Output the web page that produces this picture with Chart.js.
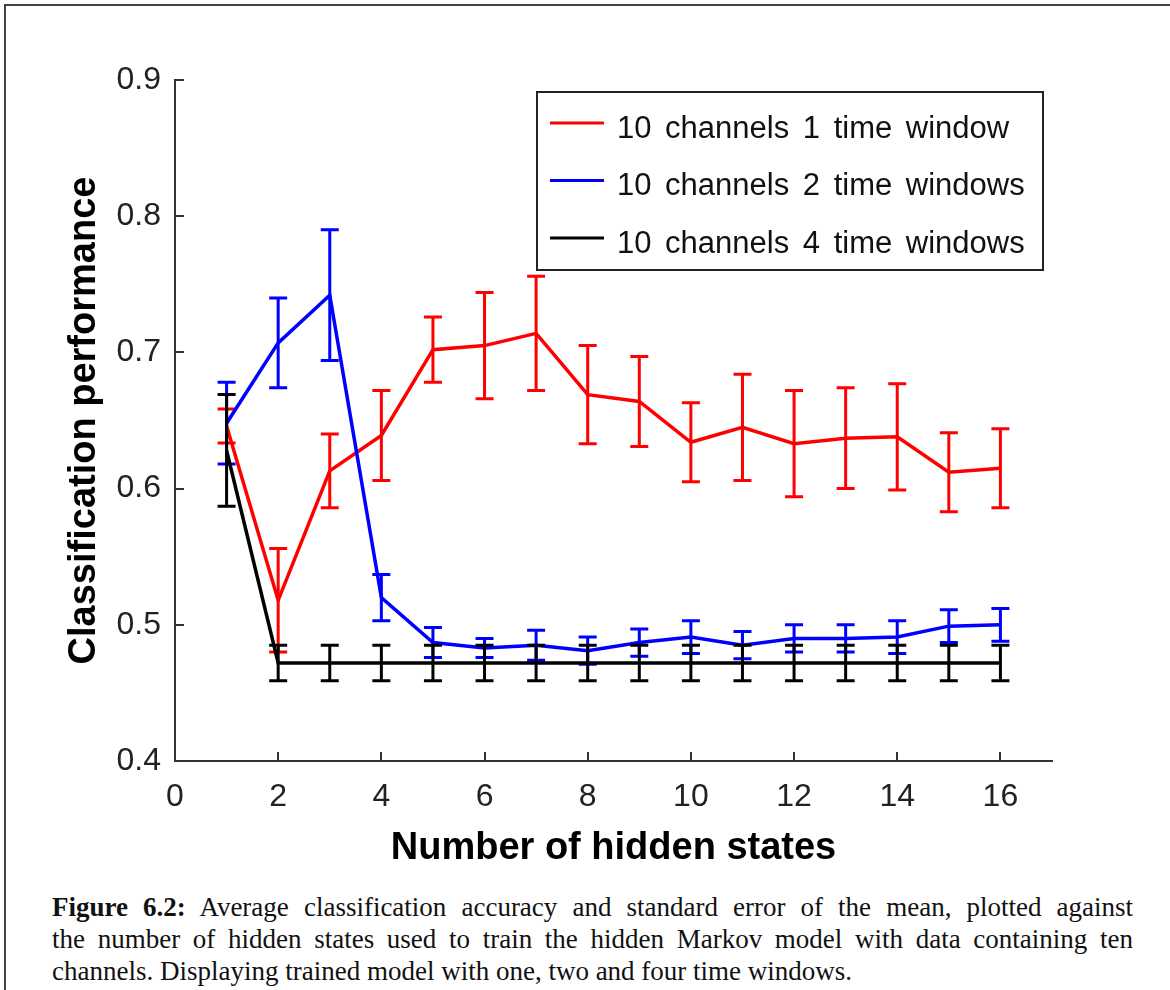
<!DOCTYPE html>
<html>
<head>
<meta charset="utf-8">
<title>Classification performance vs hidden states</title>
<script src="https://cdn.jsdelivr.net/npm/chart.js@4.4.1/dist/chart.umd.min.js"></script>
<style>
  html, body { margin: 0; padding: 0; background: #fff; }
  body { width: 1170px; height: 990px; position: relative; overflow: hidden; }
  #frame { position: absolute; left: 4px; top: 4px; width: 1200px; height: 1000px;
           border-top: 2px solid #444; border-left: 2px solid #444; }
  #plot { position: absolute; left: 0; top: 0; }
  #caption { position: absolute; left: 52px; top: 891px; width: 1081px;
             font-family: 'Liberation Serif', 'Times New Roman', serif;
             font-size: 27px; line-height: 32px; color: #111; }
  .j { text-align: justify; text-align-last: justify; }
</style>
</head>
<body>
<div id="frame"></div>
<canvas id="plot" width="1170" height="880"></canvas>
<div id="caption">
  <div class="j"><b>Figure 6.2:</b> Average classification accuracy and standard error of the mean, plotted against</div>
  <div class="j">the number of hidden states used to train the hidden Markov model with data containing ten</div>
  <div>channels. Displaying trained model with one, two and four time windows.</div>
</div>
<script>
// Number of hidden states used for training
const hiddenStates = [1, 2, 3, 4, 5, 6, 7, 8, 9, 10, 11, 12, 13, 14, 15, 16];

const seriesLabels = [
  '10 channels 1 time window',
  '10 channels 2 time windows',
  '10 channels 4 time windows'
];

// Mean classification performance and standard error of the mean
const oneWindowMean = [0.646, 0.518, 0.613, 0.639, 0.702, 0.705, 0.714, 0.669, 0.664, 0.634, 0.645, 0.633, 0.637, 0.638, 0.612, 0.615];
const oneWindowErr  = [0.0125, 0.038, 0.027, 0.033, 0.024, 0.039, 0.042, 0.036, 0.033, 0.029, 0.039, 0.039, 0.037, 0.039, 0.029, 0.029];

const twoWindowMean = [0.648, 0.707, 0.742, 0.520, 0.487, 0.483, 0.485, 0.481, 0.487, 0.491, 0.485, 0.490, 0.490, 0.491, 0.499, 0.500];
const twoWindowErr  = [0.030, 0.033, 0.048, 0.017, 0.011, 0.007, 0.011, 0.010, 0.010, 0.012, 0.010, 0.010, 0.010, 0.012, 0.012, 0.012];

const fourWindowMean = [0.628, 0.472, 0.472, 0.472, 0.472, 0.472, 0.472, 0.472, 0.472, 0.472, 0.472, 0.472, 0.472, 0.472, 0.472, 0.472];
const fourWindowErr  = [0.041, 0.013, 0.013, 0.013, 0.013, 0.013, 0.013, 0.013, 0.013, 0.013, 0.013, 0.013, 0.013, 0.013, 0.013, 0.013];

// Axis ticks
const xTickValues = [0, 2, 4, 6, 8, 10, 12, 14, 16];
const yTickValues = [0.4, 0.5, 0.6, 0.7, 0.8, 0.9];

const seriesColors = ['#ff0000', '#0000ff', '#000000'];

function points(means) {
  return hiddenStates.map((x, i) => ({ x: x, y: means[i] }));
}

// Vertical error bars with caps, drawn right after each series' line
const errorBars = {
  id: 'errorBars',
  afterDatasetDraw(chart, args) {
    const ds = chart.data.datasets[args.index];
    if (!ds.errors) return;
    const xs = chart.scales.x, ys = chart.scales.y, ctx = chart.ctx;
    const half = 9;
    ctx.save();
    ctx.strokeStyle = ds.borderColor;
    ctx.lineWidth = 3;
    ctx.lineCap = 'butt';
    ds.data.forEach((p, i) => {
      const e = ds.errors[i];
      const px = xs.getPixelForValue(p.x);
      const top = ys.getPixelForValue(p.y + e);
      const bot = ys.getPixelForValue(p.y - e);
      ctx.beginPath();
      ctx.moveTo(px, top); ctx.lineTo(px, bot);
      ctx.moveTo(px - half, top); ctx.lineTo(px + half, top);
      ctx.moveTo(px - half, bot); ctx.lineTo(px + half, bot);
      ctx.stroke();
    });
    ctx.restore();
  }
};

// Tick marks pointing into the plot area
const innerTicks = {
  id: 'innerTicks',
  beforeDatasetsDraw(chart) {
    const { ctx, chartArea } = chart;
    const xs = chart.scales.x, ys = chart.scales.y;
    const len = 9;
    ctx.save();
    ctx.strokeStyle = '#333';
    ctx.lineWidth = 2;
    ctx.beginPath();
    xTickValues.forEach(v => {
      const px = Math.round(xs.getPixelForValue(v));
      ctx.moveTo(px, chartArea.bottom);
      ctx.lineTo(px, chartArea.bottom - len);
    });
    yTickValues.forEach(v => {
      const py = Math.round(ys.getPixelForValue(v));
      ctx.moveTo(chartArea.left, py);
      ctx.lineTo(chartArea.left + len, py);
    });
    ctx.stroke();
    ctx.restore();
  }
};

// Boxed legend in the upper right of the plot area
const boxLegend = {
  id: 'boxLegend',
  afterDraw(chart) {
    const { ctx, chartArea } = chart;
    const w = 506, h = 178;
    const right = chartArea.right - 9;
    const left = right - w;
    const top = chartArea.top + 12;
    ctx.save();
    ctx.fillStyle = '#fff';
    ctx.fillRect(left, top, w, h);
    ctx.strokeStyle = '#222';
    ctx.lineWidth = 2;
    ctx.strokeRect(left, top, w, h);
    ctx.font = '31px "Liberation Sans", Arial, sans-serif';
    if ('wordSpacing' in ctx) ctx.wordSpacing = '5px';
    ctx.textBaseline = 'middle';
    ctx.textAlign = 'left';
    chart.data.datasets.forEach((ds, i) => {
      const cy = top + 37 + i * 57.5;
      ctx.strokeStyle = ds.borderColor;
      ctx.lineWidth = 3;
      ctx.beginPath();
      ctx.moveTo(left + 13, cy - 6);
      ctx.lineTo(left + 67, cy - 6);
      ctx.stroke();
      ctx.fillStyle = '#111';
      ctx.fillText(ds.label, left + 80, cy);
    });
    ctx.restore();
  }
};

const datasets = [
  { label: seriesLabels[0], data: points(oneWindowMean), errors: oneWindowErr, borderColor: seriesColors[0], order: 3 },
  { label: seriesLabels[1], data: points(twoWindowMean), errors: twoWindowErr, borderColor: seriesColors[1], order: 2 },
  { label: seriesLabels[2], data: points(fourWindowMean), errors: fourWindowErr, borderColor: seriesColors[2], order: 1 }
].map(d => Object.assign(d, {
  borderWidth: 3.5,
  pointRadius: 0,
  pointHoverRadius: 0,
  fill: false,
  tension: 0,
  backgroundColor: d.borderColor
}));

const tickFont = { family: '"Liberation Sans", Arial, sans-serif', size: 32, weight: 'normal' };
const titleFont = { family: '"Liberation Sans", Arial, sans-serif', size: 38, weight: 'bold' };

new Chart(document.getElementById('plot'), {
  type: 'line',
  data: { datasets: datasets },
  options: {
    responsive: false,
    animation: false,
    devicePixelRatio: 1,
    layout: { padding: { top: 80, right: 118, left: 0, bottom: 0 } },
    plugins: { legend: { display: false }, tooltip: { enabled: false } },
    scales: {
      x: {
        type: 'linear',
        min: 0, max: 17,
        grid: { display: false, drawTicks: false },
        border: { display: true, color: '#333', width: 2 },
        afterBuildTicks(scale) { scale.ticks = xTickValues.map(v => ({ value: v })); },
        afterFit(scale) { scale.height = 119; },
        ticks: { font: tickFont, color: '#222', padding: 17, maxRotation: 0, autoSkip: false },
        title: { display: true, text: 'Number of hidden states', font: titleFont, color: '#000', padding: { top: 0, bottom: 9 } }
      },
      y: {
        type: 'linear',
        min: 0.4, max: 0.9,
        grid: { display: false, drawTicks: false },
        border: { display: true, color: '#333', width: 2 },
        afterBuildTicks(scale) { scale.ticks = yTickValues.map(v => ({ value: v })); },
        afterFit(scale) { scale.width = 175; },
        ticks: { font: tickFont, color: '#222', padding: 14, autoSkip: false,
                 callback: v => v.toFixed(1) },
        title: { display: true, text: 'Classification performance', font: titleFont, color: '#000', padding: { top: 62, bottom: 0 } }
      }
    }
  },
  plugins: [errorBars, innerTicks, boxLegend]
});
</script>
</body>
</html>
